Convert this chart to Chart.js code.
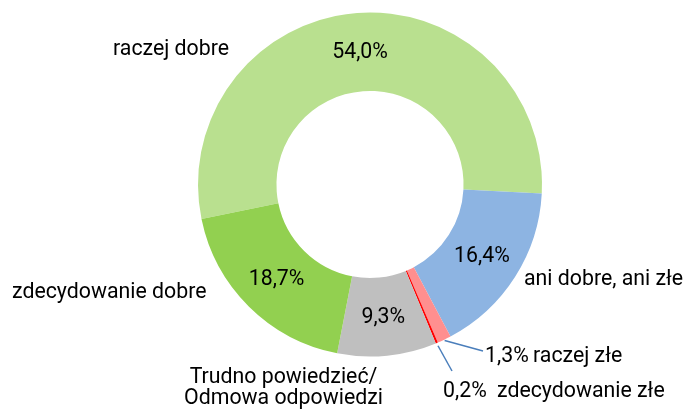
<!DOCTYPE html>
<html>
<head>
<meta charset="utf-8">
<script src="https://cdn.jsdelivr.net/npm/chart.js@4/dist/chart.umd.min.js"></script>
<style>
html,body{margin:0;padding:0;background:#fff;}
#wrap{width:686px;height:410px;position:relative;}
</style>
</head>
<body>
<div id="wrap"><canvas id="c" width="686" height="410"></canvas></div>
<script>
const categories = ["raczej dobre", "ani dobre, ani złe", "raczej złe", "zdecydowanie złe", "Trudno powiedzieć/\nOdmowa odpowiedzi", "zdecydowanie dobre"];
const values = [54.0, 16.4, 1.3, 0.2, 9.3, 18.7];
const valueLabels = ["54,0%", "16,4%", "1,3%", "0,2%", "9,3%", "18,7%"];
const colors = ["#B9E08F", "#8DB4E2", "#FF8F8F", "#FF0000", "#BFBFBF", "#92D050"];

const FONT = '21.3px Roboto';
const labelPlugin = {
  id: 'labels',
  afterDatasetsDraw(chart) {
    const ctx = chart.ctx;
    const meta = chart.getDatasetMeta(0);
    ctx.save();
    ctx.font = FONT;
    ctx.fillStyle = '#000';
    // inside percentage labels for big slices
    [0, 1, 4, 5].forEach(i => {
      const p = meta.data[i].tooltipPosition();
      ctx.textAlign = 'center';
      ctx.textBaseline = 'middle';
      ctx.fillText(valueLabels[i], p.x, p.y + 1);
    });
    ctx.textBaseline = 'alphabetic';
    ctx.textAlign = 'left';
    ctx.fillText(categories[0], 113, 55);
    ctx.fillText(categories[5], 12, 298);
    ctx.fillText(categories[1], 524, 285);
    ctx.textAlign = 'center';
    const tl = categories[4].split('\n');
    ctx.fillText(tl[0], 283.5, 383);
    ctx.fillText(tl[1], 283.5, 404);
    // small slices: outside labels with leader lines
    ctx.textAlign = 'left';
    ctx.fillText(valueLabels[2], 485, 362);
    ctx.fillText(categories[2], 533, 362);
    ctx.fillText(valueLabels[3], 443, 397);
    ctx.fillText(categories[3], 497, 397);
    ctx.strokeStyle = '#4A7EBB';
    ctx.lineWidth = 1.5;
    const lead = (i, ex, ey, extra) => {
      const a = meta.data[i];
      const mid = (a.startAngle + a.endAngle) / 2;
      const r = a.outerRadius + extra;
      ctx.beginPath();
      ctx.moveTo(a.x + r * Math.cos(mid), a.y + r * Math.sin(mid));
      ctx.lineTo(ex, ey);
      ctx.stroke();
    };
    lead(2, 483, 351, 1);
    lead(3, 452, 371, 3);
    ctx.restore();
  }
};

new Chart(document.getElementById('c'), {
  type: 'doughnut',
  data: {
    labels: categories,
    datasets: [{
      data: values,
      backgroundColor: colors,
      borderWidth: 0
    }]
  },
  options: {
    responsive: false,
    animation: false,
    rotation: 258.4,
    cutout: '54.4%',
    layout: { padding: { left: 198, right: 144, top: 12.5, bottom: 53.5 } },
    plugins: { legend: { display: false }, tooltip: { enabled: false } }
  },
  plugins: [labelPlugin]
});
</script>
</body>
</html>
